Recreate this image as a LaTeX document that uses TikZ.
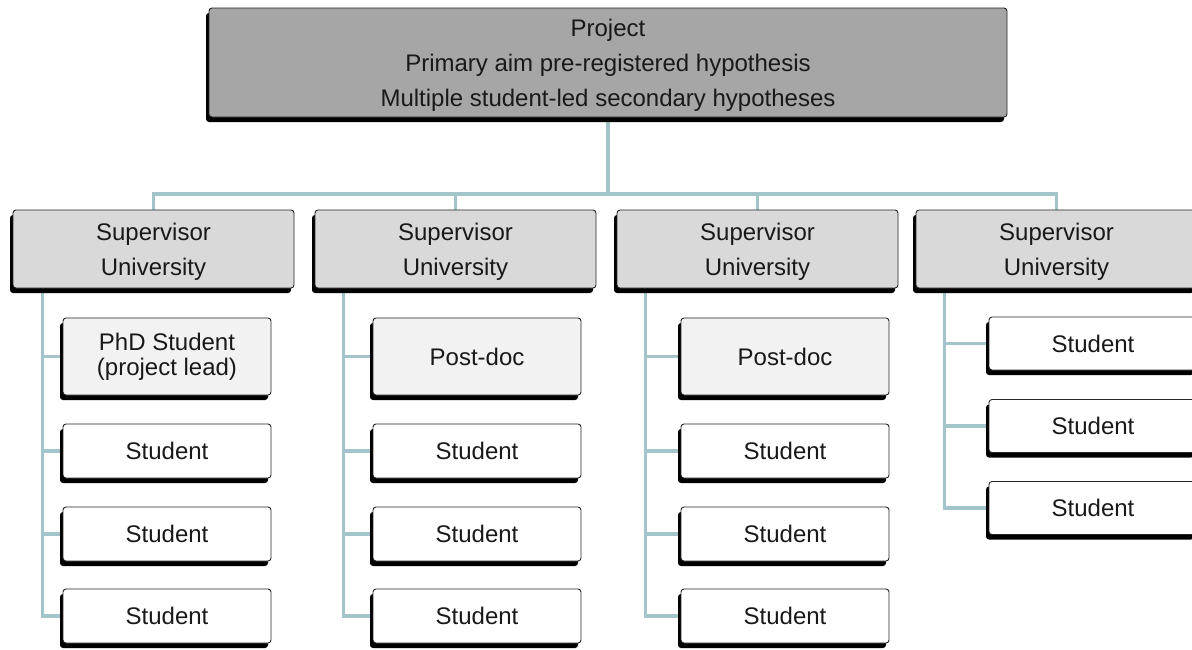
\documentclass[tikz,border=0pt]{standalone}
\usepackage{fontspec}
\setmainfont{Liberation Sans}
\usetikzlibrary{shadows}
\usetikzlibrary{backgrounds}

\definecolor{topfill}{HTML}{A6A6A6}
\definecolor{supfill}{HTML}{D9D9D9}
\definecolor{leadfill}{HTML}{F2F2F2}
\definecolor{linkcol}{HTML}{A3C5C9}
\newcommand{\lowline}{\rule{0pt}{22pt}}

\begin{document}
\begin{tikzpicture}[x=1pt, y=-1pt,
    box/.style={rectangle, rounded corners=3pt, draw=black!85, line width=0.9pt,
      align=center, inner sep=0pt, text=black!90,
      font=\fontsize{24}{35}\selectfont,
      drop shadow={shadow xshift=-3pt, shadow yshift=-5pt, opacity=1, fill=black}},
    topbox/.style={box, fill=topfill, minimum width=798pt, minimum height=109pt},
    supbox/.style={box, fill=supfill, minimum width=281pt, minimum height=78pt},
    leadbox/.style={box, fill=leadfill, minimum width=208pt, minimum height=77pt},
    studbox/.style={box, fill=white, minimum width=208pt, minimum height=54pt},
    link/.style={draw=linkcol, line width=3.5pt}]
      \useasboundingbox (0,0) rectangle (1192,649);
      \node[topbox] (proj) at (608,62.5){\lowline Project\\Primary aim pre-registered hypothesis\\Multiple student-led secondary hypotheses};
      \node[supbox] (sup1) at (153.5,249){\lowline Supervisor\\University};
      \node[supbox] (sup2) at (455.5,249){\lowline Supervisor\\University};
      \node[supbox] (sup3) at (757.5,249){\lowline Supervisor\\University};
      \node[supbox] (sup4) at (1056.5,249){\lowline Supervisor\\University};
      % first group
      \node[leadbox] (c11) at (167,356.5){PhD Student\\[-10pt](project lead)};
      \node[studbox] (c12) at (167,451){Student};
      \node[studbox] (c13) at (167,534){Student};
      \node[studbox] (c14) at (167,616){Student};
      % second group
      \node[leadbox] (c21) at (477,356.5){Post-doc};
      \node[studbox] (c22) at (477,451){Student};
      \node[studbox] (c23) at (477,534){Student};
      \node[studbox] (c24) at (477,616){Student};
      % third group
      \node[leadbox] (c31) at (785,356.5){Post-doc};
      \node[studbox] (c32) at (785,451){Student};
      \node[studbox] (c33) at (785,534){Student};
      \node[studbox] (c34) at (785,616){Student};
      % fourth group
      \node[studbox, minimum height=53pt] (c41) at (1093,343.5){Student};
      \node[studbox, minimum height=53pt] (c42) at (1093,426){Student};
      \node[studbox, minimum height=53pt] (c43) at (1093,508){Student};
      \begin{scope}[on background layer]
      \coordinate (bus) at (608,194);
      \draw[link](proj.south) -- (bus);
      \draw[link](sup1.north) |- (bus) -| (sup4.north);
      \draw[link](sup2.north) -- (sup2.north |- bus);
      \draw[link](sup3.north) -- (sup3.north |- bus);
      \draw[link]([xshift=30pt]sup1.south west) |- (c11.west);
      \draw[link]([xshift=30pt]sup1.south west) |- (c12.west);
      \draw[link]([xshift=30pt]sup1.south west) |- (c13.west);
      \draw[link]([xshift=30pt]sup1.south west) |- (c14.west);
      \draw[link]([xshift=29pt]sup2.south west) |- (c21.west);
      \draw[link]([xshift=29pt]sup2.south west) |- (c22.west);
      \draw[link]([xshift=29pt]sup2.south west) |- (c23.west);
      \draw[link]([xshift=29pt]sup2.south west) |- (c24.west);
      \draw[link]([xshift=29pt]sup3.south west) |- (c31.west);
      \draw[link]([xshift=29pt]sup3.south west) |- (c32.west);
      \draw[link]([xshift=29pt]sup3.south west) |- (c33.west);
      \draw[link]([xshift=29pt]sup3.south west) |- (c34.west);
      \draw[link]([xshift=29pt]sup4.south west) |- (c41.west);
      \draw[link]([xshift=29pt]sup4.south west) |- (c42.west);
      \draw[link]([xshift=29pt]sup4.south west) |- (c43.west);
      \end{scope}
    \end{tikzpicture}
\end{document}
